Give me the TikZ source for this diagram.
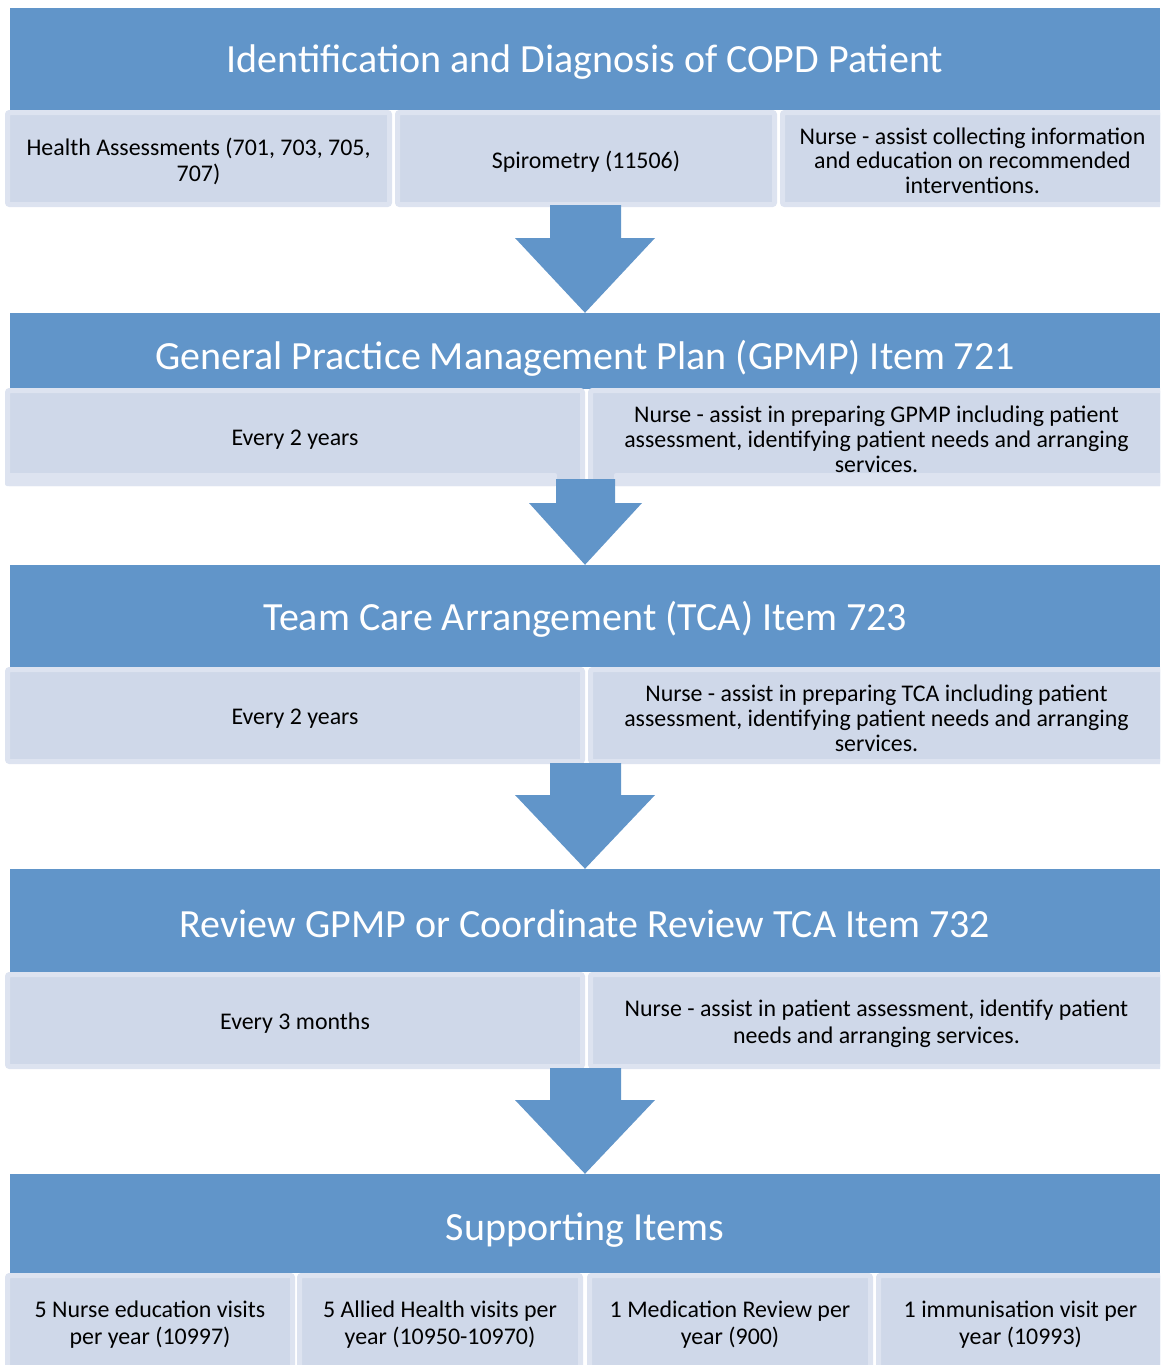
\documentclass[tikz,border=0pt]{standalone}
\usepackage{fontspec}
\setmainfont{Carlito}
\usetikzlibrary{calc}
\definecolor{bandblue}{RGB}{97,149,201}
\definecolor{boxfill}{RGB}{207,216,233}
\definecolor{boxborder}{RGB}{221,227,240}
\begin{document}
\begin{tikzpicture}[x=1pt,y=-1pt,
  band/.style={fill=bandblue, inner sep=0pt, minimum width=1150pt},
  title/.style={text=white, inner sep=0pt, font=\fontsize{40}{44}\selectfont},
  sub/.style={draw=boxborder, fill=boxfill, line width=5pt, rounded corners=2pt,
    inner sep=0pt},
  subtext/.style={inner sep=0pt, align=center, text=black, font=\fontsize{23.9}{25.5}\selectfont},
  widetext/.style={subtext, font=\fontsize{23.9}{27.5}\selectfont},
  blockarrow/.style={fill=bandblue}]
\useasboundingbox (0,0) rectangle (1160,1365);
\clip (0,0) rectangle (1160,1365);

% ---- bands
\node[band, minimum height=102pt] (b1) at (585,59) {};
\node[band, minimum height=76pt]  (b2) at (585,351) {};
\node[band, minimum height=102pt] (b3) at (585,616) {};
\node[band, minimum height=103pt] (b4) at (585,920.5) {};
\node[band, minimum height=99pt]  (b5) at (585,1223.5) {};

\node[title] (t1) at (585,62.5)   {Identification and Diagnosis of COPD Patient};
\node[title] (t2) at (585,358.5)  {General Practice Management Plan (GPMP) Item 721};
\node[title] (t3) at (585,619.5)  {Team Care Arrangement (TCA) Item 723};
\node[title] (t4) at (585,923.5)  {Review GPMP or Coordinate Review TCA Item 732};
\node[title] (t5) at (585,1230.5) {Supporting Items};

% ---- row 1
\node[sub, minimum width=382pt, minimum height=92pt] (r1a) at (198.5,158.5) {};
\node[sub, minimum width=377pt, minimum height=92pt] (r1b) at (586,158.5) {};
\node[sub, minimum width=380pt, minimum height=92pt] (r1c) at (972.5,158.5) {};
\node[subtext] (x1a) at ([yshift=-3pt]r1a.center) {Health Assessments (701, 703, 705,\\707)};
\node[subtext] (x1b) at ([yshift=-3pt]r1b.center) {Spirometry (11506)};
\node[subtext, font=\fontsize{23.9}{24.5}\selectfont] (x1c) at ([yshift=-2pt]r1c.center)
  {Nurse - assist collecting information\\and education on recommended\\interventions.};

% ---- row 2
\node[sub, minimum width=575pt, minimum height=93pt] (r2a) at (295,437) {};
\node[sub, minimum width=572pt, minimum height=93pt] (r2b) at (876.5,437) {};
\node[subtext] (x2a) at ([yshift=-2.5pt]r2a.center) {Every 2 years};
\node[subtext, font=\fontsize{23.9}{24.8}\selectfont] (x2b) at ([yshift=-2.5pt]r2b.center)
  {Nurse - assist in preparing GPMP including patient\\assessment, identifying patient needs and arranging\\services.};
\fill[boxborder, rounded corners=2pt] (5,473) rectangle (557,486);
\fill[boxborder, rounded corners=2pt] (614,473) rectangle (1165,486);

% ---- row 3
\node[sub, minimum width=575pt, minimum height=92pt] (r3a) at (295,715.5) {};
\node[sub, minimum width=572pt, minimum height=92pt] (r3b) at (876.5,715.5) {};
\node[subtext] (x3a) at ([yshift=-3pt]r3a.center) {Every 2 years};
\node[subtext, font=\fontsize{23.9}{24.8}\selectfont] (x3b) at ([yshift=-3pt]r3b.center)
  {Nurse - assist in preparing TCA including patient\\assessment, identifying patient needs and arranging\\services.};

% ---- row 4
\node[sub, minimum width=575pt, minimum height=92pt] (r4a) at (295,1020.5) {};
\node[sub, minimum width=572pt, minimum height=92pt] (r4b) at (876.5,1020.5) {};
\node[subtext] (x4a) at ([yshift=-3pt]r4a.center) {Every 3 months};
\node[widetext] (x4b) at ([yshift=-3pt]r4b.center)
  {Nurse - assist in patient assessment, identify patient\\needs and arranging services.};

% ---- row 5
\node[sub, minimum width=285pt, minimum height=92pt] (r5a) at (150,1321.5) {};
\node[sub, minimum width=281pt, minimum height=92pt] (r5b) at (440,1321.5) {};
\node[sub, minimum width=281pt, minimum height=92pt] (r5c) at (730,1321.5) {};
\node[sub, minimum width=284pt, minimum height=92pt] (r5d) at (1020.5,1321.5) {};
\node[widetext] (x5a) at ([yshift=-3pt]r5a.center) {5 Nurse education visits\\per year (10997)};
\node[widetext] (x5b) at ([yshift=-3pt]r5b.center) {5 Allied Health visits per\\year (10950-10970)};
\node[widetext] (x5c) at ([yshift=-3pt]r5c.center) {1 Medication Review per\\year (900)};
\node[widetext] (x5d) at ([yshift=-3pt]r5d.center) {1 immunisation visit per\\year (10993)};

% ---- block arrows
\fill[blockarrow] (550,205) -- (550,238) -- (515,238) -- (b2.north) -- (655,238) -- (621,238) -- (621,205) -- cycle;
\fill[blockarrow] (556,479) -- (556,503) -- (529,503) -- (b3.north) -- (642,503) -- (615,503) -- (615,479) -- cycle;
\fill[blockarrow] (550,763) -- (550,795) -- (515,795) -- (b4.north) -- (655,795) -- (621,795) -- (621,763) -- cycle;
\fill[blockarrow] (550,1068) -- (550,1100) -- (515,1100) -- (b5.north) -- (655,1100) -- (621,1100) -- (621,1068) -- cycle;
\end{tikzpicture}
\end{document}
